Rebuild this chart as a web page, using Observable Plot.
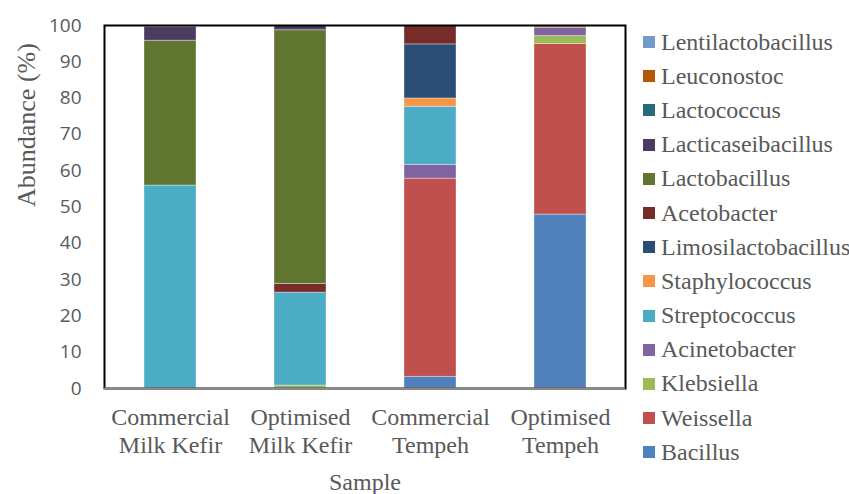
<!DOCTYPE html>
<html>
<head>
<meta charset="utf-8">
<script src="https://cdn.jsdelivr.net/npm/d3@7"></script>
<script src="https://cdn.jsdelivr.net/npm/@observablehq/plot@0.6"></script>
<style>
  body { margin: 0; background: #fff; }
  #wrap { position: relative; width: 849px; height: 494px; }
  #legend { position: absolute; left: 643px; top: 25px; font-family: "Liberation Serif", "DejaVu Serif", serif; font-size: 24px; color: #595959; }
  .item { height: 34.2px; display: flex; align-items: center; white-space: nowrap; }
  .sw { width: 12px; height: 12px; margin-right: 6px; flex: none; }
</style>
</head>
<body>
<div id="wrap"></div>
<script>
const samples = ["Commercial Milk Kefir", "Optimised Milk Kefir", "Commercial Tempeh", "Optimised Tempeh"];
const sampleLabels = ["Commercial\nMilk Kefir", "Optimised\nMilk Kefir", "Commercial\nTempeh", "Optimised\nTempeh"];
// stacking order: bottom to top
const genera = ["Bacillus", "Weissella", "Klebsiella", "Acinetobacter", "Streptococcus", "Staphylococcus",
  "Limosilactobacillus", "Acetobacter", "Lactobacillus", "Lacticaseibacillus", "Lactococcus", "Leuconostoc", "Lentilactobacillus"];
const colors = ["#4F81BD", "#C0504D", "#9BBB59", "#8064A2", "#4BACC6", "#F79646",
  "#2C4D75", "#772C2A", "#5F7530", "#4D3B62", "#276A7C", "#B65708", "#729ACA"];

// values per genus, in order of samples
const Bacillus            = [0,    0,    3.2,  47.9];
const Weissella           = [0,    0,    54.6, 47.0];
const Klebsiella          = [0,    0.8,  0,    2.2];
const Acinetobacter       = [0,    0,    3.8,  2.3];
const Streptococcus       = [55.9, 25.6, 16.0, 0];
const Staphylococcus      = [0,    0,    2.3,  0.6];
const Limosilactobacillus = [0,    0,    14.9, 0];
const Acetobacter         = [0,    2.4,  5.2,  0];
const Lactobacillus       = [39.9, 69.9, 0,    0];
const Lacticaseibacillus  = [3.8,  1.3,  0,    0];
const Lactococcus         = [0,    0,    0,    0];
const Leuconostoc         = [0.4,  0,    0,    0];
const Lentilactobacillus  = [0,    0,    0,    0];

const series = [Bacillus, Weissella, Klebsiella, Acinetobacter, Streptococcus, Staphylococcus,
  Limosilactobacillus, Acetobacter, Lactobacillus, Lacticaseibacillus, Lactococcus, Leuconostoc, Lentilactobacillus];

const data = [];
genera.forEach((g, gi) => samples.forEach((s, si) => {
  data.push({sample: s, genus: g, value: series[gi][si]});
}));

const yTicks = d3.range(0, 101, 10);
const serif = "Liberation Serif, DejaVu Serif, serif";

const chart = Plot.plot({
  width: 849,
  height: 494,
  marginLeft: 104,
  marginRight: 224,
  marginTop: 25,
  marginBottom: 106,
  style: {fontFamily: serif, fontSize: "24px", color: "#595959", background: "#fff"},
  x: {domain: samples, paddingInner: 0.6, paddingOuter: 0.3},
  y: {domain: [0, 100]},
  color: {domain: genera, range: colors},
  marks: [
    Plot.barY(data, Plot.stackY({order: genera}, {x: "sample", y: "value", fill: "genus", stroke: "white", strokeOpacity: 0.35, strokeWidth: 1})),
    Plot.frame({stroke: "black", strokeWidth: 2}),
    Plot.ruleY([0], {stroke: "#8c8c8c", strokeWidth: 2}),
    Plot.axisY(yTicks, {tickSize: 0, tickPadding: 23, fontFamily: "Open Sans, sans-serif", fontSize: 19, fill: "#595959", label: null}),
    Plot.axisX({tickSize: 0, tickPadding: 16, tickFormat: (d) => sampleLabels[samples.indexOf(d)], lineHeight: 1.19,
      fontFamily: serif, fontSize: 24, fill: "#595959", label: null}),
    Plot.text(["Sample"], {frameAnchor: "bottom", dy: 94, lineAnchor: "middle", fontFamily: serif, fontSize: 24, fill: "#595959"}),
    Plot.text(["Abundance (%)"], {frameAnchor: "left", dx: -78, rotate: -90, lineAnchor: "middle", fontFamily: serif, fontSize: 26, fill: "#595959"})
  ]
});
document.getElementById("wrap").appendChild(chart);

const legend = document.createElement("div");
legend.id = "legend";
genera.slice().reverse().forEach((g) => {
  const row = document.createElement("div");
  row.className = "item";
  const sw = document.createElement("span");
  sw.className = "sw";
  sw.style.background = colors[genera.indexOf(g)];
  const t = document.createElement("span");
  t.textContent = g;
  row.appendChild(sw);
  row.appendChild(t);
  legend.appendChild(row);
});
document.getElementById("wrap").appendChild(legend);
</script>
</body>
</html>
